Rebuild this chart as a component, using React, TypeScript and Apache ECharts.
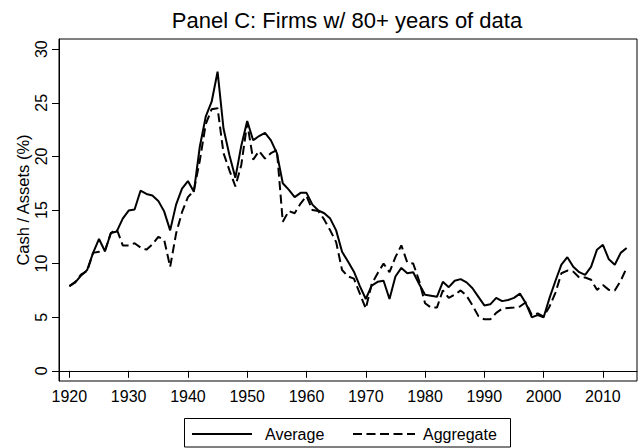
import React, { useEffect, useRef } from "react";
import * as echarts from "echarts";

const FIRST_YEAR = 1920;
const LAST_YEAR = 2014;
const years: number[] = Array.from({ length: LAST_YEAR - FIRST_YEAR + 1 }, (_, i) => FIRST_YEAR + i);

const average: number[] = [
  7.9, 8.25, 8.9, 9.4, 11.0, 12.3, 11.15, 12.85, 13.0, 14.2,
  14.95, 15.05, 16.8, 16.5, 16.35, 15.85, 14.85, 13.1, 15.5, 17.0,
  17.7, 16.7, 20.9, 23.7, 25.1, 27.9, 22.6, 20.1, 18.0, 21.0,
  23.3, 21.5, 21.9, 22.2, 21.5, 20.3, 17.5, 16.9, 16.2, 16.6,
  16.6, 15.5, 14.95, 14.7, 14.2, 13.1, 11.1, 10.2, 9.25, 7.9,
  6.7, 7.95, 8.3, 8.4, 6.7, 8.8, 9.6, 9.1, 9.2, 8.1,
  7.1, 7.0, 6.9, 8.3, 7.8, 8.4, 8.55, 8.25, 7.7, 6.9,
  6.1, 6.2, 6.8, 6.5, 6.6, 6.8, 7.2, 6.3, 5.0, 5.2,
  5.0, 6.8, 8.4, 9.9, 10.6, 9.7, 9.2, 8.95, 9.7, 11.3,
  11.75, 10.4, 9.9, 11.0, 11.45,
];

const aggregate: number[] = [
  7.9, 8.3, 9.0, 9.3, 11.0, 11.1, 11.2, 12.85, 13.2, 11.7,
  11.7, 11.9, 11.5, 11.3, 11.8, 12.5, 12.2, 9.7, 12.8, 14.8,
  16.2, 16.8, 19.6, 23.0, 24.4, 24.5, 20.3, 18.7, 17.2, 19.2,
  23.1, 19.7, 20.5, 19.8, 20.3, 20.6, 13.9, 14.9, 14.7, 15.6,
  16.3, 15.0, 14.9, 14.1, 13.1, 12.0, 9.4, 8.8, 8.6, 7.2,
  5.8, 8.1, 9.1, 10.0, 9.2, 10.6, 11.7, 10.1, 10.0, 8.4,
  6.3, 5.9, 5.9, 7.5, 6.8, 7.1, 7.5, 7.0, 6.1, 5.1,
  4.8, 4.8, 5.4, 5.8, 5.85, 5.9, 6.0, 6.4, 5.2, 5.35,
  5.05, 6.0, 7.3, 9.1, 9.35, 9.25, 8.7, 8.7, 8.5, 7.55,
  8.0, 7.55, 7.5, 8.4, 9.6,
];

const xTicks: number[] = [1920, 1930, 1940, 1950, 1960, 1970, 1980, 1990, 2000, 2010];
const yTicks: number[] = [0, 5, 10, 15, 20, 25, 30];

const TITLE = "Panel C: Firms w/ 80+ years of data";
const Y_TITLE = "Cash / Assets (%)";
const LEGEND_NAMES = ["Average", "Aggregate"];

const FONT = '"Liberation Sans", Arial, Helvetica, sans-serif';

export default function App() {
  const ref = useRef<HTMLDivElement>(null);

  useEffect(() => {
    if (!ref.current) return;
    const chart = echarts.init(ref.current, null, { renderer: "svg" });
    const avgData = years.map((y, i) => [y, average[i]]);
    const aggData = years.map((y, i) => [y, aggregate[i]]);

    chart.setOption({
      animation: false,
      backgroundColor: "#fff",
      textStyle: { fontFamily: FONT },
      grid: {
        left: 59,
        top: 39,
        width: 578,
        height: 342,
        show: true,
        borderColor: "#000",
        borderWidth: 1,
        backgroundColor: "#fff",
      },
      xAxis: {
        type: "value",
        min: 1918.25,
        max: 2015.75,
        axisLine: { show: true, lineStyle: { color: "#000", width: 1 } },
        axisTick: { show: true, length: 7, lineStyle: { color: "#000", width: 1 }, customValues: xTicks },
        axisLabel: {
          color: "#000",
          fontSize: 16,
          fontFamily: FONT,
          margin: 7,
          customValues: xTicks,
          formatter: (v: number) => String(v),
        },
        splitLine: { show: false },
      },
      yAxis: {
        type: "value",
        min: -0.95,
        max: 30.95,
        axisLine: { show: true, lineStyle: { color: "#000", width: 1 } },
        axisTick: { show: true, length: 7, lineStyle: { color: "#000", width: 1 }, customValues: yTicks },
        axisLabel: {
          color: "#000",
          fontSize: 16,
          fontFamily: FONT,
          margin: 10,
          rotate: 90,
          customValues: yTicks,
          formatter: (v: number) => String(v),
        },
        splitLine: { show: false },
      },
      series: [
        {
          name: LEGEND_NAMES[0],
          type: "line",
          data: avgData,
          symbol: "none",
          lineStyle: { color: "#000", width: 2, type: "solid" },
          z: 3,
        },
        {
          name: LEGEND_NAMES[1],
          type: "line",
          data: aggData,
          symbol: "none",
          lineStyle: { color: "#000", width: 2, type: [9, 4.5] },
          z: 2,
        },
      ],
      graphic: [
        {
          type: "text",
          x: 347,
          y: 20,
          style: { text: TITLE, fontSize: 22, fontFamily: FONT, fill: "#000", align: "center", verticalAlign: "middle" },
        },
        {
          type: "text",
          x: 23,
          y: 200,
          rotation: Math.PI / 2,
          style: { text: Y_TITLE, fontSize: 16.5, fontFamily: FONT, fill: "#000", align: "center", verticalAlign: "middle" },
        },
        {
          type: "rect",
          shape: { x: 184.5, y: 418.5, width: 326, height: 28.5 },
          style: { fill: "#fff", stroke: "#000", lineWidth: 1 },
        },
        {
          type: "line",
          shape: { x1: 192, y1: 434, x2: 252, y2: 434 },
          style: { stroke: "#000", lineWidth: 2 },
        },
        {
          type: "text",
          x: 265,
          y: 434,
          style: { text: LEGEND_NAMES[0], fontSize: 16, fontFamily: FONT, fill: "#000", align: "left", verticalAlign: "middle" },
        },
        {
          type: "line",
          shape: { x1: 353, y1: 434, x2: 415, y2: 434 },
          style: { stroke: "#000", lineWidth: 2, lineDash: [9, 4.5] },
        },
        {
          type: "text",
          x: 423,
          y: 434,
          style: { text: LEGEND_NAMES[1], fontSize: 16, fontFamily: FONT, fill: "#000", align: "left", verticalAlign: "middle" },
        },
      ],
    });

    return () => chart.dispose();
  }, []);

  return (
    <div
      ref={ref}
      style={{ position: "fixed", left: 0, top: 0, width: 641, height: 448, background: "#fff" }}
    />
  );
}
